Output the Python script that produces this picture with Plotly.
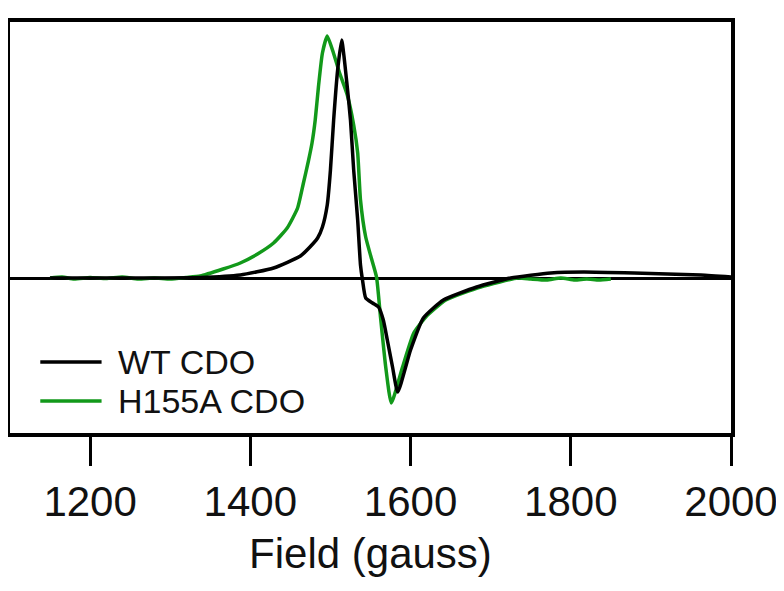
import plotly.graph_objects as go

# WT CDO spectrum (field in gauss, signal in arbitrary units)
wt_field = [1150, 1250, 1337.5, 1387.5, 1429, 1462.5, 1479, 1484, 1490, 1496, 1500, 1504, 1509, 1514,
            1521, 1525, 1529, 1534, 1537.5, 1540, 1544, 1552.5, 1560, 1566, 1571, 1577.5, 1584,
            1600, 1616, 1641, 1682.5, 1725, 1775, 1816, 1879, 1962.5, 2000]
wt_signal = [0, 0, 0.5, 3, 10, 22, 35, 40, 51, 73, 108, 158, 208, 238,
             191, 158, 108, 58, 13, -2, -20, -25, -29, -42, -62, -89, -114,
             -72, -40, -22, -9, 0, 5, 6, 5, 3, 1]

# H155A CDO spectrum
h155a_field = [1150, 1165, 1180, 1200, 1220, 1240, 1260, 1280, 1300, 1320, 1337.5, 1366, 1387.5,
               1409, 1429, 1446, 1459, 1466, 1472.5, 1477, 1481, 1485, 1490, 1496, 1503.75, 1511,
               1521, 1529, 1534, 1537.5, 1544, 1551, 1557.5, 1562.5, 1569, 1576, 1590, 1604, 1619,
               1644, 1687.5, 1734, 1750, 1770, 1787.5, 1805, 1820, 1835, 1850]
h155a_signal = [0, 1, -1, 0.5, -0.5, 1, -1, 0, -1, 0.5, 2, 9, 15,
                24, 35, 50, 70, 94, 117, 135, 158, 191, 225, 242, 225, 206,
                183, 153, 125, 78, 41, 20, 1, -39, -89, -125, -89, -55, -39,
                -22, -9, 0, -1, -2, 0, -2, -1, -2, -1]

x_ticks = [1200, 1400, 1600, 1800, 2000]
series_names = ["WT CDO", "H155A CDO"]
colors = ["#000000", "#12991a"]

fig = go.Figure()
fig.add_trace(go.Scatter(x=h155a_field, y=h155a_signal, mode="lines", name=series_names[1],
                         line=dict(color=colors[1], width=3.5, shape="spline", smoothing=0.5)))
fig.add_trace(go.Scatter(x=wt_field, y=wt_signal, mode="lines", name=series_names[0],
                         line=dict(color=colors[0], width=3.5, shape="spline", smoothing=0.5)))

font = "Liberation Sans, Arial, sans-serif"

# manual legend (line sample + label)
legend_y = [0.173, 0.078]
for i, name in enumerate(series_names):
    fig.add_shape(type="line", xref="paper", yref="paper", x0=0.042, x1=0.127,
                  y0=legend_y[i], y1=legend_y[i], line=dict(color=colors[i], width=3.5))
    fig.add_annotation(xref="paper", yref="paper", x=0.147, y=legend_y[i], text=name,
                       showarrow=False, xanchor="left", yanchor="middle",
                       font=dict(family=font, size=34, color="#111111"))

# page body has an 8px margin, so the figure is 8px smaller than the window
fig.update_layout(
    width=776, height=583,
    margin=dict(l=2, r=53, t=14, b=158),
    paper_bgcolor="white", plot_bgcolor="white",
    showlegend=False,
    font=dict(family=font, color="#111111"),
    xaxis=dict(range=[1100, 2000], tickvals=x_ticks, ticktext=[str(t) for t in x_ticks],
               ticks="outside", ticklen=29, tickwidth=3, tickcolor="black",
               showline=True, linewidth=3.5, linecolor="black", mirror=True,
               showgrid=False, zeroline=False,
               tickfont=dict(size=42, family=font),
               title=dict(text="Field (gauss)", font=dict(size=42, family=font), standoff=15)),
    yaxis=dict(range=[-155, 256], showticklabels=False, ticks="",
               showline=True, linewidth=3.5, linecolor="black", mirror=True,
               showgrid=False, zeroline=True, zerolinecolor="black", zerolinewidth=3),
)

fig.write_html("out.html")
